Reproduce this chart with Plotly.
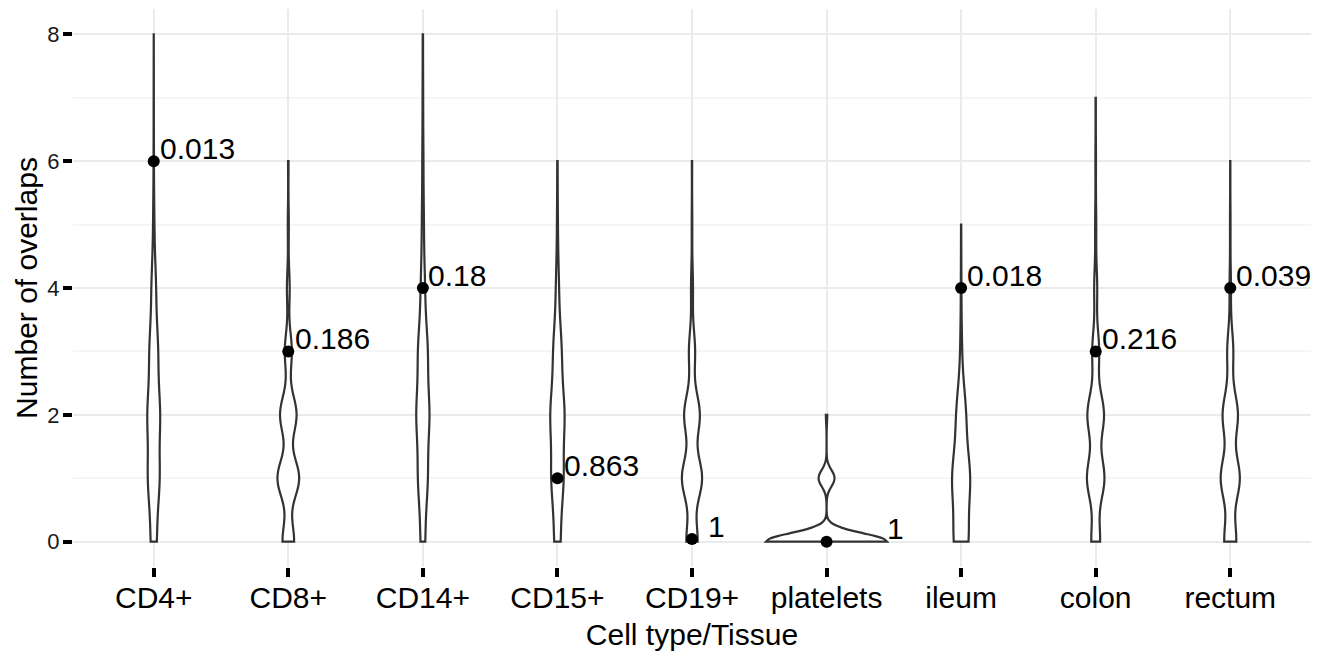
import numpy as np
import plotly.graph_objects as go

# ---- data ----
categories = ["CD4+", "CD8+", "CD14+", "CD15+", "CD19+", "platelets", "ileum", "colon", "rectum"]
overlap_levels = [0, 1, 2, 3, 4, 5, 6, 7, 8]

# frequency of each overlap level (null distribution, 1000 draws each)
counts_cd4 = [130, 260, 280, 190, 100, 27, 8, 4, 1]
counts_cd8 = [190, 355, 270, 115, 45, 17, 8]
counts_cd14 = [100, 215, 290, 215, 90, 45, 25, 13, 7]
counts_cd15 = [137, 270, 315, 185, 65, 20, 8]
counts_cd19 = [200, 360, 280, 110, 35, 10, 5]
counts_platelets = [875, 115, 10]
counts_ileum = [330, 400, 215, 37, 13, 5]
counts_colon = [160, 320, 304, 126, 55, 20, 10, 5]
counts_rectum = [220, 350, 280, 111, 25, 10, 4]

# kernel bandwidth of each violin's density estimate
kde_bandwidth = [0.45, 0.30, 0.45, 0.45, 0.33, 0.132, 0.45, 0.34, 0.34]

observed_overlaps = [6, 3, 4, 1, 0.04, 0, 4, 3, 4]
p_value_labels = ["0.013", "0.186", "0.18", "0.863", "1", "1", "0.018", "0.216", "0.039"]

y_ticks = [0, 2, 4, 6, 8]
y_minor_ticks = [1, 3, 5, 7]

all_counts = [counts_cd4, counts_cd8, counts_cd14, counts_cd15, counts_cd19,
              counts_platelets, counts_ileum, counts_colon, counts_rectum]

# ---- style ----
FONT = "Liberation Sans, Helvetica, Arial, sans-serif"
label_xshift = [4, 5, 3, 5, 14, 58, 4, 4, 4]

fig = go.Figure()

for cat, counts, bw in zip(categories, all_counts, kde_bandwidth):
    samples = np.repeat(np.array(overlap_levels[:len(counts)], dtype=float), counts)
    fig.add_trace(go.Violin(
        x=[cat] * len(samples),
        y=samples,
        name="overlaps",
        scalegroup="all",
        scalemode="count",
        bandwidth=bw,
        spanmode="hard",
        side="both",
        points=False,
        box_visible=False,
        meanline_visible=False,
        line=dict(color="#333333", width=2.2),
        fillcolor="white",
        showlegend=False,
        hoverinfo="skip",
    ))

fig.add_trace(go.Scatter(
    x=categories,
    y=observed_overlaps,
    mode="markers",
    marker=dict(color="black", size=12, line=dict(width=0)),
    showlegend=False,
    hoverinfo="skip",
))

for cat, yv, txt, dx in zip(categories, observed_overlaps, p_value_labels, label_xshift):
    fig.add_annotation(
        x=cat, y=yv, text=txt, showarrow=False,
        xanchor="left", yanchor="middle", xshift=dx, yshift=13,
        font=dict(family=FONT, size=30, color="black"),
    )

fig.update_layout(
    width=1331, height=656,
    margin=dict(l=73, r=20, t=9, b=89),
    paper_bgcolor="white", plot_bgcolor="white",
    violinmode="overlay", violingap=0.1, violingroupgap=0,
    font=dict(family=FONT, color="black"),
    showlegend=False,
)

fig.update_xaxes(
    type="category",
    categoryorder="array", categoryarray=categories,
    range=[-0.6, len(categories) - 0.4],
    showgrid=True, gridcolor="#ebebeb", gridwidth=2,
    zeroline=False, showline=False,
    ticks="outside", ticklen=9, tickwidth=3.5, tickcolor="black",
    ticklabelstandoff=-5,
    tickfont=dict(family=FONT, size=30, color="black"),
    title=dict(text="Cell type/Tissue", font=dict(family=FONT, size=30, color="black"), standoff=10),
)

fig.update_yaxes(
    range=[-0.4, 8.4],
    tickvals=y_ticks,
    showgrid=True, gridcolor="#ebebeb", gridwidth=2,
    minor=dict(tickvals=y_minor_ticks, showgrid=True, gridcolor="#f5f5f5", gridwidth=2, ticks=""),
    zeroline=False, showline=False,
    ticks="outside", ticklen=9, tickwidth=3.5, tickcolor="black",
    ticklabelstandoff=-1,
    tickfont=dict(family=FONT, size=22, color="#1a1a1a"),
    title=dict(text="Number of overlaps", font=dict(family=FONT, size=30, color="black"), standoff=0),
)

fig.write_html("out.html", config={"displayModeBar": False},
               post_script="document.body.style.margin='0px';document.body.style.overflow='hidden';")
